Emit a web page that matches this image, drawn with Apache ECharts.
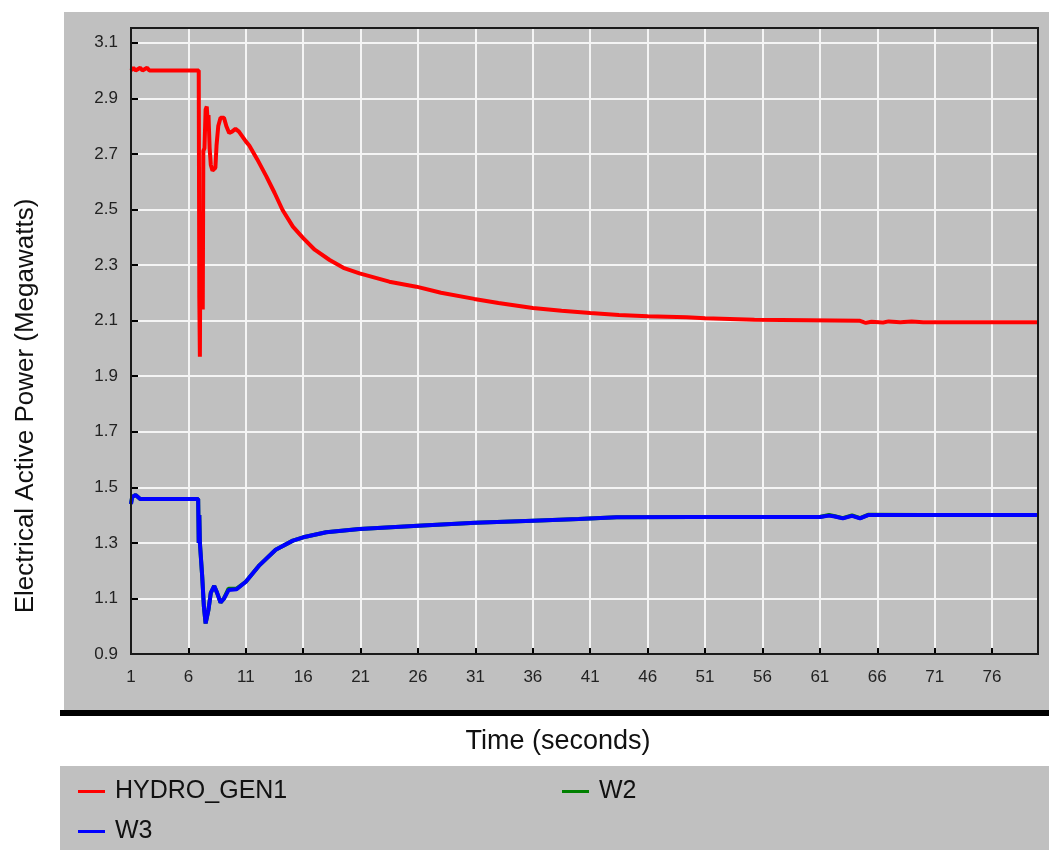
<!DOCTYPE html>
<html>
<head>
<meta charset="utf-8">
<script src="https://cdn.jsdelivr.net/npm/echarts@6/dist/echarts.min.js"></script>
<style>
html,body{margin:0;padding:0;background:#fff;}
#chart{width:1049px;height:850px;}
</style>
</head>
<body>
<div id="chart"></div>
<script>
// ---- data ----
const seriesNames = ['HYDRO_GEN1', 'W2', 'W3'];
const xTickLabels = ['1','6','11','16','21','26','31','36','41','46','51','56','61','66','71','76'];
const yTickLabels = ['0.9','1.1','1.3','1.5','1.7','1.9','2.1','2.3','2.5','2.7','2.9','3.1'];

const hydroT = [1.0,1.2,1.4,1.8,2.0,2.4,2.6,6.9,6.95,7.0,7.05,7.1,7.2,7.25,7.3,7.4,7.5,7.6,7.7,7.75,7.85,7.95,8.1,8.35,8.45,8.6,8.8,9.1,9.3,9.55,9.8,10.1,10.4,11.0,11.3,12.0,12.8,13.5,14.2,15.1,16.0,17.0,18.3,19.5,20.9,23.5,25.85,28.0,30.9,33.0,36.0,38.5,41.0,43.5,46.0,49.4,51.0,55.3,60.0,64.5,65.0,65.5,66.5,67.0,68.0,69.0,70.0,75.0,80.0];
const hydroV = [3.0,3.01,3.0,3.01,3.0,3.01,3.0,3.0,2.18,1.97,2.44,2.14,2.45,2.14,2.71,2.72,2.86,2.87,2.80,2.84,2.72,2.66,2.64,2.65,2.73,2.80,2.83,2.83,2.80,2.775,2.78,2.79,2.78,2.745,2.73,2.68,2.618,2.56,2.498,2.438,2.397,2.355,2.318,2.29,2.270,2.24,2.222,2.20,2.178,2.163,2.145,2.135,2.127,2.12,2.116,2.112,2.108,2.103,2.101,2.099,2.092,2.096,2.093,2.097,2.094,2.097,2.094,2.094,2.094];

const w2T = [1.0,1.1,1.4,1.8,6.85,6.9,6.95,7.0,7.1,7.2,7.35,7.5,7.6,7.75,7.95,8.25,8.5,8.8,9.1,9.5,10.2,11.0,12.2,13.6,15.1,16.0,18.0,20.9,26.0,31.0,36.0,40.0,43.3,50.0,55.0,61.0,61.8,62.3,63.0,63.8,64.5,65.2,70.0,80.0];
const w2V = [1.44,1.465,1.472,1.458,1.458,1.30,1.40,1.30,1.30,1.18,1.07,1.01,1.03,1.06,1.12,1.145,1.12,1.085,1.10,1.135,1.135,1.16,1.22,1.275,1.308,1.32,1.338,1.35,1.362,1.372,1.38,1.386,1.392,1.393,1.393,1.393,1.400,1.396,1.389,1.399,1.389,1.401,1.40,1.40];

const w3T = [1.0,1.1,1.4,1.8,6.85,6.9,6.95,7.0,7.1,7.2,7.35,7.5,7.6,7.75,7.95,8.25,8.5,8.8,9.1,9.5,10.2,11.0,12.2,13.6,15.1,16.0,18.0,20.9,26.0,31.0,36.0,40.0,43.3,50.0,55.0,61.0,61.8,62.3,63.0,63.8,64.5,65.2,70.0,80.0];
const w3V = [1.44,1.465,1.472,1.458,1.458,1.30,1.40,1.30,1.30,1.18,1.07,1.01,1.03,1.06,1.12,1.145,1.12,1.085,1.10,1.13,1.133,1.16,1.22,1.275,1.308,1.32,1.338,1.35,1.362,1.372,1.38,1.386,1.392,1.393,1.393,1.393,1.398,1.395,1.388,1.397,1.388,1.40,1.40,1.40];

const seriesColors = ['#ff0000', '#008000', '#0000ff'];

// ---- layout ----
const G = {left: 131, top: 28, right: 11, bottom: 196};
const W = 1049, H = 850;
const FONT = '"Liberation Sans", Arial, sans-serif';

function zip(t, v) { return t.map((x, i) => [x, v[i]]); }

function legendAt(name, left, top) {
  return {data: [name], orient: 'horizontal', left: left, top: top,
    icon: 'rect', itemWidth: 27, itemHeight: 3,
    textStyle: {fontFamily: FONT, fontSize: 25, color: '#111', padding: [0, 0, 0, 5]}};
}

const chart = echarts.init(document.getElementById('chart'), null, {renderer: 'canvas'});

const option = {
  backgroundColor: '#ffffff',
  animation: false,
  grid: {left: G.left, top: G.top, right: G.right, bottom: G.bottom, show: true,
         backgroundColor: '#c0c0c0', borderWidth: 0},
  xAxis: {
    type: 'value', min: 1, max: 80, interval: 5,
    axisLine: {show: true, onZero: false, lineStyle: {color: '#000', width: 2}},
    axisTick: {show: true, inside: true, length: 6, lineStyle: {color: '#000', width: 2}},
    axisLabel: {show: true, margin: 15, color: '#222', fontFamily: FONT, fontSize: 17,
      showMaxLabel: false,
      formatter: function (v) { const s = String(v); return xTickLabels.indexOf(s) >= 0 ? s : ''; }},
    splitLine: {show: true, lineStyle: {color: '#f4f4f4', width: 2}}
  },
  yAxis: {
    type: 'value', min: 0.9, max: 3.153, interval: 0.2,
    axisLine: {show: true, onZero: false, lineStyle: {color: '#000', width: 2}},
    axisTick: {show: true, inside: true, length: 7, lineStyle: {color: '#000', width: 2}},
    axisLabel: {show: true, margin: 13, color: '#222', fontFamily: FONT, fontSize: 17,
      showMaxLabel: false,
      formatter: function (v) { const s = (Math.round(v * 10) / 10).toFixed(1); return yTickLabels.indexOf(s) >= 0 && Math.abs(v - parseFloat(s)) < 1e-6 ? s : ''; }},
    splitLine: {show: true, lineStyle: {color: '#f4f4f4', width: 2}}
  },
  legend: [
    legendAt(seriesNames[0], 73, 774),
    legendAt(seriesNames[1], 557, 774),
    legendAt(seriesNames[2], 73, 814)
  ],
  series: [
    {name: seriesNames[0], type: 'line', data: zip(hydroT, hydroV), showSymbol: false, symbol: 'none',
     lineStyle: {color: seriesColors[0], width: 4}, itemStyle: {color: seriesColors[0]}, z: 3},
    {name: seriesNames[1], type: 'line', data: zip(w2T, w2V), showSymbol: false, symbol: 'none',
     lineStyle: {color: seriesColors[1], width: 4}, itemStyle: {color: seriesColors[1]}, z: 3},
    {name: seriesNames[2], type: 'line', data: zip(w3T, w3V), showSymbol: false, symbol: 'none',
     lineStyle: {color: seriesColors[2], width: 4}, itemStyle: {color: seriesColors[2]}, z: 4}
  ],
  graphic: [
    {type: 'rect', z: -10, silent: true, shape: {x: 64, y: 12, width: W - 64, height: 698}, style: {fill: '#c0c0c0'}},
    {type: 'rect', z: -10, silent: true, shape: {x: 60, y: 710, width: W - 60, height: 6}, style: {fill: '#000'}},
    {type: 'rect', z: -10, silent: true, shape: {x: 60, y: 766, width: W - 60, height: H - 766}, style: {fill: '#c0c0c0'}},
    {type: 'rect', z: 100, silent: true,
     shape: {x: G.left, y: G.top, width: W - G.left - G.right, height: H - G.top - G.bottom},
     style: {fill: 'none', stroke: '#1a1a1a', lineWidth: 2}},
    {type: 'text', z: 50, silent: true, x: 26, y: 406, rotation: Math.PI / 2,
     style: {text: 'Electrical Active Power (Megawatts)', font: '26px ' + FONT, fill: '#111',
             textAlign: 'center', textVerticalAlign: 'middle'}},
    {type: 'text', z: 50, silent: true, x: 558, y: 742,
     style: {text: 'Time (seconds)', font: '27px ' + FONT, fill: '#111',
             textAlign: 'center', textVerticalAlign: 'middle'}}
  ]
};
chart.setOption(option);
</script>
</body>
</html>
